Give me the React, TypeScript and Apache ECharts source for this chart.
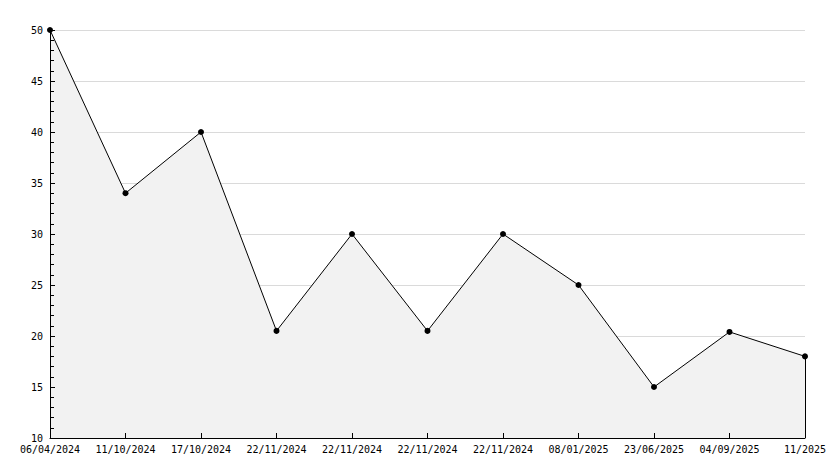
import React, { useEffect, useRef } from "react";
import * as echarts from "echarts";

const categories = [
  "06/04/2024",
  "11/10/2024",
  "17/10/2024",
  "22/11/2024",
  "22/11/2024",
  "22/11/2024",
  "22/11/2024",
  "08/01/2025",
  "23/06/2025",
  "04/09/2025",
  "11/2025",
];
const values = [50, 34, 40, 20.5, 30, 20.5, 30, 25, 15, 20.4, 18];
const yMin = 10;
const yMax = 50;
const yInterval = 5;

export default function App() {
  const ref = useRef<HTMLDivElement>(null);
  useEffect(() => {
    if (!ref.current) return;
    const chart = echarts.init(ref.current, null, { renderer: "svg" });
    const font = "DejaVu Sans Mono";
    const lastIdx = values.length - 1;
    chart.setOption({
      animation: false,
      grid: { left: 50, right: 29, top: 30, bottom: 30, containLabel: false },
      xAxis: {
        type: "category",
        data: categories,
        boundaryGap: false,
        z: 5,
        axisLine: { show: true, lineStyle: { color: "#000", width: 1 } },
        axisTick: { show: true, inside: true, length: 5, lineStyle: { color: "#000" } },
        axisLabel: {
          interval: 0,
          color: "#000",
          fontFamily: font,
          fontSize: 10,
          margin: 6,
        },
        splitLine: { show: false },
      },
      yAxis: [
        {
          type: "value",
          min: yMin,
          max: yMax,
          interval: yInterval,
          position: "left",
          axisLine: { show: false },
          axisTick: { show: false },
          axisLabel: { show: false },
          splitLine: { show: true, lineStyle: { color: "#dadada", width: 1 } },
        },
        {
          type: "value",
          min: yMin,
          max: yMax,
          interval: yInterval,
          position: "left",
          z: 5,
          axisLine: { show: true, lineStyle: { color: "#000", width: 1 } },
          axisTick: { show: true, inside: true, length: 5, lineStyle: { color: "#000" } },
          minorTick: { show: true, splitNumber: 5, length: 4, lineStyle: { color: "#000" } },
          axisLabel: {
            color: "#000",
            fontFamily: font,
            fontSize: 10,
            margin: 7,
          },
          splitLine: { show: false },
        },
      ],
      series: [
        {
          type: "line",
          data: values,
          yAxisIndex: 0,
          symbol: "circle",
          symbolSize: 6,
          itemStyle: { color: "#000" },
          lineStyle: { color: "#000", width: 1 },
          areaStyle: { color: "#f2f2f2", opacity: 1, origin: "start" },
          markLine: {
            silent: true,
            symbol: "none",
            label: { show: false },
            lineStyle: { color: "#000", width: 1, type: "solid" },
            data: [
              [
                { coord: [lastIdx, values[lastIdx]] },
                { coord: [lastIdx, yMin] },
              ],
            ],
          },
        },
      ],
    });
    return () => chart.dispose();
  }, []);
  return <div ref={ref} style={{ width: 834, height: 468, position: "absolute", left: 0, top: 0 }} />;
}
